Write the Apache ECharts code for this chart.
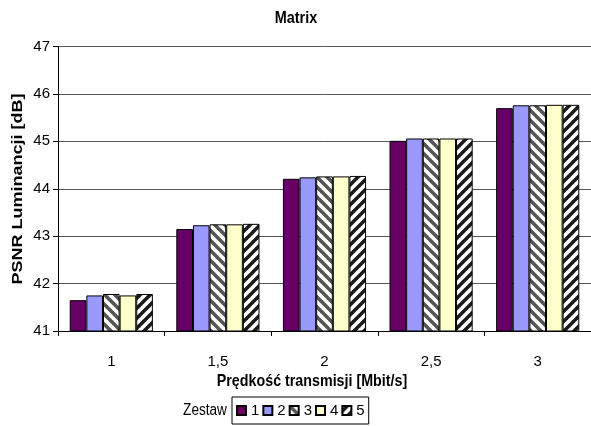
<!DOCTYPE html>
<html>
<head>
<meta charset="utf-8">
<script src="https://cdn.jsdelivr.net/npm/echarts@6/dist/echarts.min.js"></script>
<style>
  html, body { margin: 0; padding: 0; background: #fff; }
  #chart { width: 591px; height: 426px; }
</style>
</head>
<body>
<div id="chart"></div>
<script>
// Bit rates (categories) and PSNR luminance per test set
const categories = ['1', '1,5', '2', '2,5', '3'];
const zestaw1 = [41.65, 43.15, 44.21, 45.01, 45.70];
const zestaw2 = [41.75, 43.23, 44.24, 45.06, 45.76];
const zestaw3 = [41.78, 43.25, 44.26, 45.06, 45.76];
const zestaw4 = [41.75, 43.25, 44.26, 45.06, 45.77];
const zestaw5 = [41.78, 43.26, 44.27, 45.06, 45.77];
const seriesNames = ['1', '2', '3', '4', '5'];
const yTicks = [41, 42, 43, 44, 45, 46, 47];

const chartTitle = 'Matrix';
const xTitle = 'Prędkość transmisji [Mbit/s]';
const yTitle = 'PSNR Luminancji [dB]';
const legendTitle = 'Zestaw';

// Diagonal hatch tile used as a bar fill
function stripes(bg, fg, dir) {
  const n = 10;
  const c = document.createElement('canvas');
  c.width = n; c.height = n;
  const g = c.getContext('2d');
  g.fillStyle = bg;
  g.fillRect(0, 0, n, n);
  g.strokeStyle = fg;
  g.lineWidth = 3.6;
  for (let k = -n; k <= n; k += n) {
    g.beginPath();
    if (dir === 'back') {
      g.moveTo(k - 1, -1); g.lineTo(k + n + 1, n + 1);
    } else {
      g.moveTo(k - 1, n + 1); g.lineTo(k + n + 1, -1);
    }
    g.stroke();
  }
  return { image: c, repeat: 'repeat' };
}

const fills = [
  '#660066',
  '#9999ff',
  stripes('#ffffff', '#555555', 'back'),
  '#ffffcc',
  stripes('#1a1a1a', '#ffffff', 'fwd')
];
const values = [zestaw1, zestaw2, zestaw3, zestaw4, zestaw5];

const font = 'Arial, "Liberation Sans", sans-serif';
const chart = echarts.init(document.getElementById('chart'), null, { renderer: 'canvas' });

// Condensed caption text (narrowed horizontally)
function caption(text, x, y, size, bold, opts) {
  return Object.assign({
    type: 'text', x: x, y: y,
    style: {
      text: text,
      font: (bold ? 'bold ' : '') + size + 'px ' + font,
      fill: '#000', align: 'center', verticalAlign: 'middle'
    }
  }, opts || {});
}

chart.setOption({
  animation: false,
  backgroundColor: '#fff',
  grid: { left: 58, top: 46.5, width: 535, height: 284.5, containLabel: false },
  legend: {
    data: seriesNames,
    left: 232, top: 397,
    orient: 'horizontal',
    itemWidth: 9, itemHeight: 9, itemGap: 3,
    padding: [6, 4, 6, 4],
    borderColor: '#000', borderWidth: 1,
    textStyle: { fontFamily: font, fontSize: 15, color: '#000' },
    icon: 'rect'
  },
  graphic: [
    caption(chartTitle, 296, 18, 17, true, { scaleX: 0.85 }),
    caption(xTitle, 312, 381, 17, true, { scaleX: 0.84 }),
    caption(yTitle, 18, 189, 18, true, { rotation: Math.PI / 2, scaleY: 0.82 }),
    caption(legendTitle, 205, 411, 16, false, { scaleX: 0.85 })
  ],
  xAxis: {
    type: 'category',
    data: categories,
    axisLine: { lineStyle: { color: '#000', width: 1 } },
    axisTick: { show: true, alignWithLabel: false, length: 5, lineStyle: { color: '#000' } },
    axisLabel: { fontFamily: font, fontSize: 15, color: '#000', margin: 23 },
    splitLine: { show: false }
  },
  yAxis: {
    type: 'value',
    min: yTicks[0], max: yTicks[yTicks.length - 1], interval: 1,
    axisLine: { show: true, lineStyle: { color: '#000', width: 1 } },
    axisTick: { show: true, length: 5, inside: false, lineStyle: { color: '#000' } },
    axisLabel: { fontFamily: font, fontSize: 15, color: '#000', margin: 8 },
    splitLine: { show: true, lineStyle: { color: '#555', width: 1 } }
  },
  series: seriesNames.map((name, i) => ({
    name: name,
    type: 'bar',
    data: values[i],
    barGap: '0%',
    barCategoryGap: '22%',
    clip: true,
    itemStyle: { color: fills[i], borderColor: '#000', borderWidth: 1 }
  }))
});
</script>
</body>
</html>
